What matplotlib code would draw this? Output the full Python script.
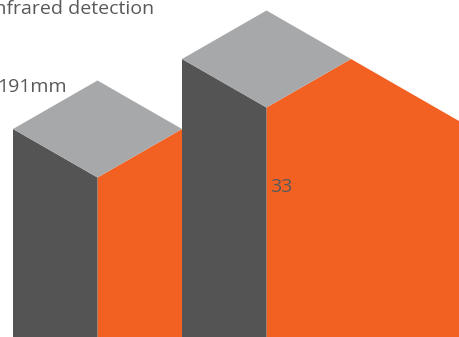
import matplotlib
matplotlib.use("Agg")
import matplotlib.pyplot as plt
from matplotlib.patches import Polygon

# Data
bar_heights = [208, 278]          # height of the front-left top corner (chart units)
bar_labels = ["191mm", "33"]
title_text = "Infrared detection"

# Styles
c_top = "#a7a8aa"
c_left = "#545454"
c_right = "#f26122"
c_text = "#58595b"

W, H = 459, 337
fig = plt.figure(figsize=(W / 100, H / 100), dpi=100)
ax = fig.add_axes([0, 0, 1, 1])
ax.set_xlim(0, W)
ax.set_ylim(0, H)
ax.axis("off")

hw = 84.5   # half width of the isometric diamond
hh = 48.5   # half height of the diamond
x_start = 13
step = 2 * hw

for i, h in enumerate(bar_heights):
    x0 = x_start + i * step
    left = [(x0, 0), (x0, h), (x0 + hw, h - hh), (x0 + hw, 0)]
    top = [(x0, h), (x0 + hw, h + hh), (x0 + 2 * hw, h), (x0 + hw, h - hh)]
    if i == len(bar_heights) - 1:
        ext = W - (x0 + 2 * hw)
        right = [(x0 + hw, h - hh), (x0 + 2 * hw, h), (W, h - ext * hh / hw), (W, 0), (x0 + hw, 0)]
    else:
        right = [(x0 + hw, h - hh), (x0 + 2 * hw, h), (x0 + 2 * hw, 0), (x0 + hw, 0)]
    ax.add_patch(Polygon(right, closed=True, facecolor=c_right, edgecolor="none"))
    ax.add_patch(Polygon(left, closed=True, facecolor=c_left, edgecolor="none"))
    ax.add_patch(Polygon(top, closed=True, facecolor=c_top, edgecolor="none"))

font = "Open Sans"
ax.text(154, 323.5, title_text, ha="right", va="baseline", fontsize=14,
        color=c_text, family=font)
ax.text(67, 244.5, bar_labels[0], ha="right", va="baseline", fontsize=14,
        color=c_text, family=font)
ax.text(270, 145, bar_labels[1], ha="left", va="baseline", fontsize=14,
        color=c_text, family=font)

fig.savefig("out.png", dpi=100)
